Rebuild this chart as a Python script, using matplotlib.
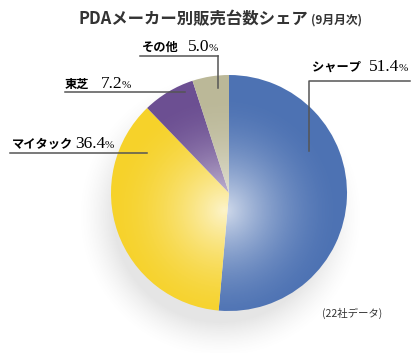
import numpy as np
import matplotlib
matplotlib.use('Agg')
import matplotlib.pyplot as plt
from matplotlib.patches import Circle

# data
makers = ['シャープ', 'マイタック', '東芝', 'その他']
shares = [51.4, 36.4, 7.2, 5.0]
colors = ['#4d72b3', '#f6d22a', '#6c4f92', '#bbb898']

W, H = 420, 353
def py(y):
    # pixel row -> data y (y up)
    return H - y

fig = plt.figure(figsize=(4.2, 3.53), dpi=100)
ax = fig.add_axes([0, 0, 1, 1])

cx, cy, r = 229, py(193), 118

# soft gray shadow under the pie
yy, xx = np.mgrid[0:H, 0:W]
d = np.sqrt((xx - 220) ** 2 + (yy - 215) ** 2)
sh = np.clip((142 - d) / 35, 0, 1) ** 1.5 * 0.25
shadow = np.zeros((H, W, 4))
shadow[..., :3] = 0.6
shadow[..., 3] = sh
ax.imshow(shadow, extent=(0, W, 0, H), origin='upper', zorder=0, interpolation='bilinear')

wedges, _ = ax.pie(shares, colors=colors, startangle=90, counterclock=False,
                   center=(cx, cy), radius=r, frame=True,
                   wedgeprops=dict(linewidth=0))
ax.set_xlim(0, W)
ax.set_ylim(0, H)
ax.set_aspect('equal')
ax.axis('off')

# radial highlight toward the center
d2 = np.sqrt((xx - (cx - 5)) ** 2 + (yy - 210) ** 2) / r
hl = np.zeros((H, W, 4))
hl[..., :3] = 1.0
hl[..., 3] = np.clip(1 - d2, 0, 1) ** 1.8 * 0.75
im = ax.imshow(hl, extent=(0, W, 0, H), origin='upper', zorder=3, interpolation='bilinear')
im.set_clip_path(Circle((cx, cy), r, transform=ax.transData))

jp = ['Noto Sans CJK JP', 'DejaVu Sans']
num = ['Liberation Serif', 'DejaVu Serif']
lc = '#555555'

def label(x, y, name, val, gap):
    ax.text(x, py(y), name, family=jp, fontsize=8.8, fontweight='bold',
            ha='left', va='baseline', zorder=5)
    t = ax.text(x + gap, py(y), f'{val:.1f}', family=num, fontsize=12.5,
                ha='left', va='baseline', zorder=5)
    fig.canvas.draw()
    bb = t.get_window_extent().transformed(ax.transData.inverted())
    ax.text(bb.x1 - 1, py(y), '%', family=num, fontsize=8,
            ha='left', va='baseline', zorder=5)

label(312, 71, makers[0], shares[0], 57)
label(12, 148, makers[1], shares[1], 63)
label(65, 88, makers[2], shares[2], 36)
label(142, 51, makers[3], shares[3], 46)

# leader lines
ax.plot([410, 309, 309], [py(81), py(81), py(151)], color=lc, lw=1.1, zorder=6)
ax.plot([218, 218], [py(56), py(88)], color=lc, lw=1.1, zorder=6)
ax.plot([140, 218], [py(56), py(56)], color=lc, lw=1.1, zorder=6)
ax.plot([65, 185], [py(92), py(92)], color=lc, lw=1.1, zorder=6)
ax.plot([10, 147], [py(153), py(153)], color=lc, lw=1.1, zorder=6)

# title
ax.text(78, py(24), 'PDAメーカー別販売台数シェア', family=jp, fontsize=11.8,
        fontweight='bold', color='#333333', ha='left', va='baseline')
ax.text(311, py(24), '(9月月次)', family=jp, fontsize=8.5, fontweight='bold',
        color='#333333', ha='left', va='baseline')

ax.text(322, py(317), '(22社データ)', family=jp, fontsize=7.5, color='#333333',
        ha='left', va='baseline')

fig.savefig('out.png', dpi=100)
